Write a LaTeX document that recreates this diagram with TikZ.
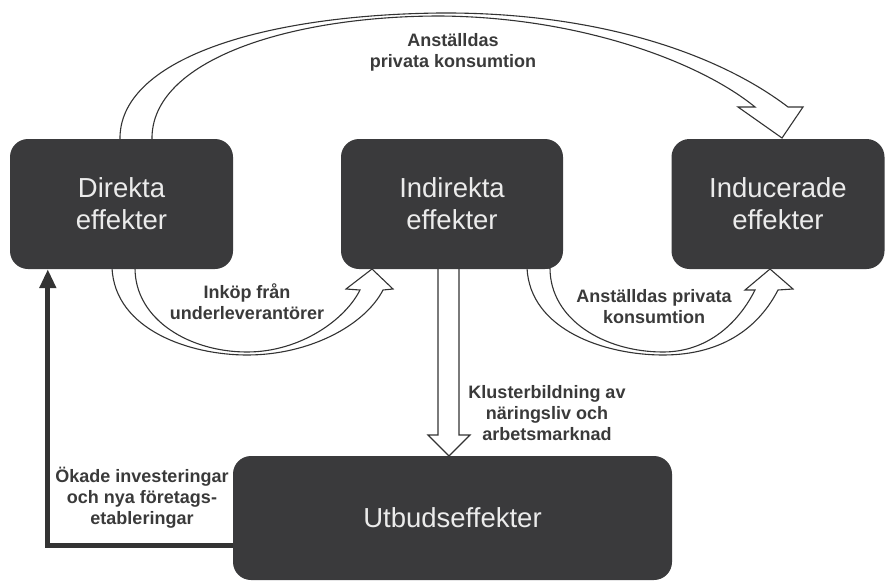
\documentclass[tikz,border=0pt]{standalone}
\usepackage{fontspec}
\setmainfont{Liberation Sans}
\usetikzlibrary{arrows.meta}
\pgfdeclarelayer{bg}
\pgfsetlayers{bg,main}
\definecolor{boxgray}{HTML}{3A3A3C}
\definecolor{linegray}{HTML}{333333}
\definecolor{labelgray}{HTML}{3A3A3A}

\begin{document}
\begin{tikzpicture}[x=1pt, y=-1pt,
	effect/.style={rectangle, rounded corners=18pt, fill=boxgray, text=white!92!black, inner sep=0pt, align=center, font=\fontsize{27.5}{32}\selectfont},
	flowlabel/.style={text=labelgray, align=center, font=\bfseries\fontsize{18}{21}\selectfont},
	hollow/.style={draw=linegray, line width=1.1pt, fill=white},
	feedback/.style={draw=linegray, line width=5pt, -{Triangle[length=19pt,width=16pt]}}]
		\useasboundingbox (0,0) rectangle (886,581);

		\node[effect, minimum width=223pt, minimum height=130pt] (dir) at (121.5,204) {Direkta\\effekter};
		\node[effect, minimum width=222pt, minimum height=130pt] (indir) at (452,204) {Indirekta\\effekter};
		\node[effect, minimum width=213pt, minimum height=130pt] (induc) at (778,204) {Inducerade\\effekter};
		\node[effect, minimum width=439pt, minimum height=124pt] (utb) at (452.5,518) {Utbudseffekter};

		\node[flowlabel] (konsA) at (453,52) {Anställdas\\privata konsumtion};
		\node[flowlabel] (inkop) at (247,302) {Inköp från\\underleverantörer};
		\node[flowlabel] (konsB) at (654,307) {Anställdas privata\\konsumtion};
		\node[flowlabel] (kluster) at (547,413) {Klusterbildning av\\näringsliv och\\arbetsmarknad};
		\node[flowlabel] (okade) at (142,498) {Ökade investeringar\\och nya företags-\\etableringar};

		\begin{pgfonlayer}{bg}
			% direkta -> inducerade, over the top
			\draw[hollow] (120,140) .. controls (118,60) and (260,15) .. (440,13)
				.. controls (600,12) and (720,55) .. (788,107)
				-- (803,107) -- (782,138) -- (738,107) -- (755,107)
				.. controls (700,62) and (580,17) .. (440,16)
				.. controls (290,16) and (150,60) .. (152,140) -- cycle;
			% direkta -> indirekta
			\draw[hollow] (112,268) .. controls (115,330) and (190,355) .. (247,355)
				.. controls (310,355) and (365,325) .. (383,290)
				-- (393,289) -- (372,269) -- (346,289) -- (360,290)
				.. controls (345,320) and (300,352) .. (247,352)
				.. controls (190,352) and (135,320) .. (135,268) -- cycle;
			% indirekta -> inducerade
			\draw[hollow] (527,268) .. controls (530,330) and (605,355) .. (663,355)
				.. controls (725,355) and (760,325) .. (778,290)
				-- (793,289) -- (770,269) -- (745,290) -- (755,290)
				.. controls (740,320) and (710,352) .. (663,352)
				.. controls (605,352) and (550,320) .. (550,268) -- cycle;
			% indirekta -> utbud
			\draw[hollow] (438,268) -- (438,435) -- (428,435) -- (449,456)
				-- (470,435) -- (459,435) -- (459,268) -- cycle;
			% utbud -> direkta
			\draw[feedback] (utb.west |- 0,545) -| ([xshift=38pt]dir.south west);
		\end{pgfonlayer}
	\end{tikzpicture}
\end{document}
